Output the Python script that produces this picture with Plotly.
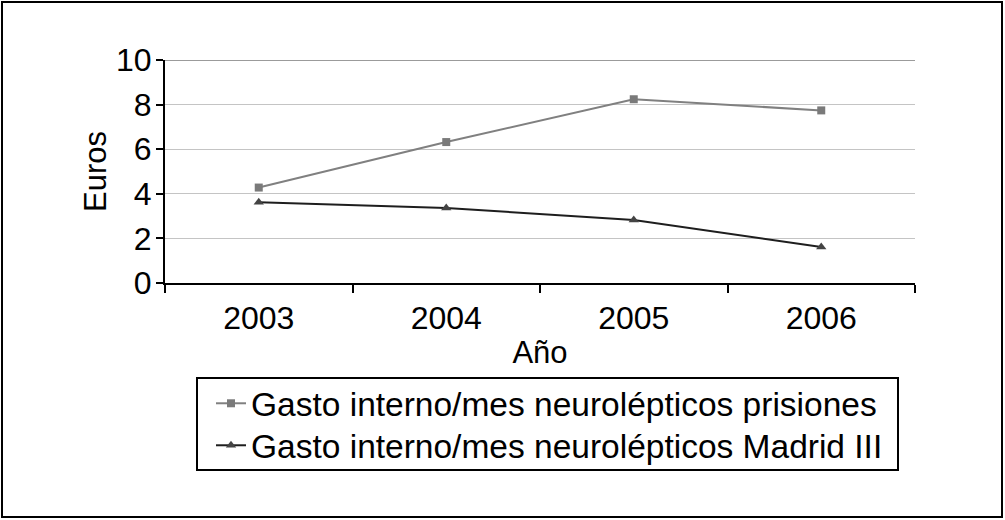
import plotly.graph_objects as go

years = ["2003", "2004", "2005", "2006"]
prisiones = [4.28, 6.32, 8.24, 7.74]
madrid = [3.62, 3.36, 2.83, 1.61]
series_names = ["Gasto interno/mes neurolépticos prisiones",
                "Gasto interno/mes neurolépticos Madrid III"]

FONT = "Liberation Sans, Arial, Helvetica, sans-serif"
W, H = 1005, 520
L, R, T, B = 165, 90, 60, 237
pw, ph = W - L - R, H - T - B

def px_x(p):
    return (p - L) / pw

def px_y(p):
    return (H - B - p) / ph

fig = go.Figure()
fig.add_trace(go.Scatter(
    x=years, y=prisiones, name=series_names[0], mode="lines+markers",
    line=dict(color="#808080", width=2),
    marker=dict(symbol="square", size=8, color="#7a7a7a"),
    legend="legend",
))
fig.add_trace(go.Scatter(
    x=years, y=madrid, name=series_names[1], mode="lines+markers",
    line=dict(color="#1e1e1e", width=2),
    marker=dict(symbol="triangle-up", size=9, color="#444444"),
    legend="legend2",
))

legend_common = dict(
    xanchor="left", yanchor="top",
    bgcolor="rgba(0,0,0,0)", borderwidth=0,
    font=dict(size=33.5, color="black"),
    itemwidth=30,
)

fig.update_layout(
    width=W, height=H,
    margin=dict(l=L, r=R, t=T, b=B),
    paper_bgcolor="white", plot_bgcolor="white",
    font=dict(family=FONT, size=32, color="black"),
    showlegend=True,
    legend=dict(x=px_x(211), y=px_y(375), **legend_common),
    legend2=dict(x=px_x(211), y=px_y(417), **legend_common),
    xaxis=dict(
        type="category", range=[-0.5, 3.5], showgrid=False, showline=True,
        linecolor="black", linewidth=2, ticks="outside", tickson="boundaries",
        ticklen=8, tickcolor="black", tickwidth=2, ticklabelstandoff=6,
        tickfont=dict(size=32),
        title=dict(text="Año", font=dict(size=31), standoff=6),
        zeroline=False,
    ),
    yaxis=dict(
        range=[0, 10], dtick=2, showgrid=True, gridcolor="#c4c4c4", gridwidth=1,
        showline=True, linecolor="black", linewidth=2, ticks="outside",
        ticklen=7, tickcolor="black", tickwidth=2, zeroline=False,
        ticklabelstandoff=-2,
        tickfont=dict(size=32),
        title=dict(text="Euros", font=dict(size=31), standoff=0),
    ),
    shapes=[
        dict(type="line", xref="paper", yref="y", x0=0, x1=1, y0=10, y1=10,
             line=dict(color="#7a7a7a", width=1.5), layer="below"),
        dict(type="rect", xref="paper", yref="paper",
             x0=px_x(197), x1=px_x(898), y0=px_y(470), y1=px_y(378),
             line=dict(color="black", width=2), fillcolor="rgba(0,0,0,0)"),
        dict(type="rect", xref="paper", yref="paper",
             x0=px_x(2), x1=px_x(1002), y0=px_y(517), y1=px_y(2),
             line=dict(color="black", width=2), fillcolor="rgba(0,0,0,0)"),
    ],
)

fig.write_html(
    "out.html",
    config={"displayModeBar": False},
    post_script="document.body.style.margin='0';document.body.style.overflow='hidden';",
)
